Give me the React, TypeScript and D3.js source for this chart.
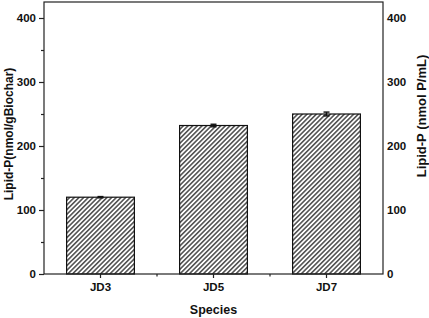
import React, { useRef, useEffect } from 'react';
import * as d3 from 'd3';

const species = ['JD3', 'JD5', 'JD7'];
const lipidP = [120, 232, 250];
const lipidErr = [1, 2, 3];
const yTicks = [0, 100, 200, 300, 400];
const yMinorTicks = [50, 150, 250, 350];

function BarChart() {
  const svgRef = useRef<SVGSVGElement>(null);

  useEffect(() => {
    const width = 429;
    const height = 318;
    const margin = { top: 2, right: 46, bottom: 44, left: 44 };
    const svg = d3.select(svgRef.current);
    svg.selectAll('*').remove();
    svg.attr('width', width).attr('height', height);

    const font = 'Liberation Sans, Arial, sans-serif';

    const defs = svg.append('defs');
    const pat = defs
      .append('pattern')
      .attr('id', 'hatch')
      .attr('patternUnits', 'userSpaceOnUse')
      .attr('width', 3.3)
      .attr('height', 3.3)
      .attr('patternTransform', 'rotate(45)');
    pat.append('rect').attr('width', 3.3).attr('height', 3.3).attr('fill', '#fff');
    pat
      .append('line')
      .attr('x1', 0.8)
      .attr('y1', 0)
      .attr('x2', 0.8)
      .attr('y2', 3.3)
      .attr('stroke', '#1a1a1a')
      .attr('stroke-width', 1.2);

    const x = d3
      .scaleBand()
      .domain(species)
      .range([margin.left, width - margin.right])
      .paddingInner(0.4)
      .paddingOuter(0.2);

    const y = d3
      .scaleLinear()
      .domain([0, 425])
      .range([height - margin.bottom, margin.top]);

    const data = species.map((s, i) => ({ s, v: lipidP[i], e: lipidErr[i] }));

    // bars
    svg
      .append('g')
      .selectAll('rect')
      .data(data)
      .enter()
      .append('rect')
      .attr('x', (d) => x(d.s)!)
      .attr('y', (d) => y(d.v))
      .attr('width', x.bandwidth())
      .attr('height', (d) => y(0) - y(d.v))
      .attr('fill', 'url(#hatch)')
      .attr('stroke', '#111')
      .attr('stroke-width', 1.2);

    // error bars
    const eb = svg.append('g').attr('stroke', '#111').attr('stroke-width', 1.4);
    data.forEach((d) => {
      const cx = x(d.s)! + x.bandwidth() / 2;
      eb.append('line').attr('x1', cx).attr('x2', cx).attr('y1', y(d.v - d.e)).attr('y2', y(d.v + d.e));
      eb.append('line').attr('x1', cx - 3).attr('x2', cx + 3).attr('y1', y(d.v + d.e)).attr('y2', y(d.v + d.e));
      eb.append('line').attr('x1', cx - 3).attr('x2', cx + 3).attr('y1', y(d.v - d.e)).attr('y2', y(d.v - d.e));
    });

    // frame
    svg
      .append('rect')
      .attr('x', margin.left)
      .attr('y', margin.top)
      .attr('width', width - margin.left - margin.right)
      .attr('height', height - margin.top - margin.bottom)
      .attr('fill', 'none')
      .attr('stroke', '#222')
      .attr('stroke-width', 1.2);

    // left axis
    const left = svg
      .append('g')
      .attr('transform', `translate(${margin.left},0)`)
      .call(d3.axisLeft(y).tickValues(yTicks).tickSize(5).tickPadding(3));
    left.select('.domain').remove();
    left.selectAll('line').attr('stroke', '#222').attr('stroke-width', 1.2);
    left.selectAll('text').attr('font-family', font).attr('font-weight', 'bold').attr('font-size', 11.5).attr('fill', '#111');
    const leftMinor = svg
      .append('g')
      .attr('transform', `translate(${margin.left},0)`)
      .call(d3.axisLeft(y).tickValues(yMinorTicks).tickSize(3).tickFormat(() => ''));
    leftMinor.select('.domain').remove();
    leftMinor.selectAll('line').attr('stroke', '#222').attr('stroke-width', 1.2);

    // right axis (labels only)
    const right = svg
      .append('g')
      .attr('transform', `translate(${width - margin.right},0)`)
      .call(d3.axisRight(y).tickValues(yTicks).tickSize(0).tickPadding(4));
    right.select('.domain').remove();
    right.selectAll('text').attr('font-family', font).attr('font-weight', 'bold').attr('font-size', 11.5).attr('fill', '#111');

    // bottom axis
    const bottom = svg
      .append('g')
      .attr('transform', `translate(0,${height - margin.bottom})`)
      .call(d3.axisBottom(x).tickSize(4).tickPadding(5));
    bottom.select('.domain').remove();
    bottom.selectAll('line').attr('stroke', '#222').attr('stroke-width', 1.2);
    bottom.selectAll('text').attr('font-family', font).attr('font-weight', 'bold').attr('font-size', 11.5).attr('fill', '#111');
    // minor ticks between categories
    const centers = species.map((s) => x(s)! + x.bandwidth() / 2);
    const mids = centers.slice(1).map((c, i) => (c + centers[i]) / 2);
    svg
      .append('g')
      .selectAll('line')
      .data(mids)
      .enter()
      .append('line')
      .attr('x1', (d) => d)
      .attr('x2', (d) => d)
      .attr('y1', height - margin.bottom)
      .attr('y2', height - margin.bottom + 2.5)
      .attr('stroke', '#222')
      .attr('stroke-width', 1.2);

    // titles
    svg
      .append('text')
      .attr('x', (margin.left + width - margin.right) / 2)
      .attr('y', 314)
      .attr('text-anchor', 'middle')
      .attr('font-family', font)
      .attr('font-weight', 'bold')
      .attr('font-size', 12.5)
      .attr('fill', '#111')
      .text('Species');

    svg
      .append('text')
      .attr('transform', `translate(13,134) rotate(-90)`)
      .attr('text-anchor', 'middle')
      .attr('font-family', font)
      .attr('font-weight', 'bold')
      .attr('font-size', 12)
      .attr('fill', '#111')
      .text('Lipid-P(nmol/gBiochar)');

    svg
      .append('text')
      .attr('transform', `translate(426,116) rotate(-90)`)
      .attr('text-anchor', 'middle')
      .attr('font-family', font)
      .attr('font-weight', 'bold')
      .attr('font-size', 13)
      .attr('fill', '#111')
      .text('Lipid-P (nmol P/mL)');
  }, []);

  return <svg ref={svgRef} style={{ display: 'block' }}></svg>;
}

export default function App() {
  return (
    <div style={{ position: 'absolute', left: 0, top: 0 }}>
      <BarChart />
    </div>
  );
}
